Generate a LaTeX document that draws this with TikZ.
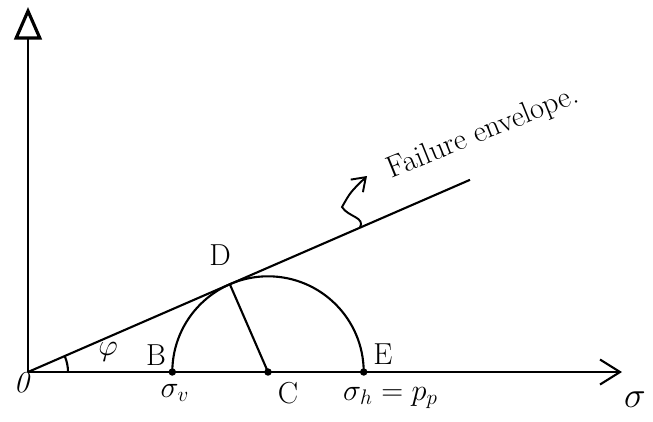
\documentclass[tikz,border=0pt]{standalone}
\usetikzlibrary{arrows.meta, calc}

\begin{document}
\begin{tikzpicture}[
  line width=1.2pt,
  axis/.style={line width=1.2pt},
  knot/.style={circle, fill, inner sep=1.5pt},
  lbl/.style={font=\LARGE, inner sep=1pt},
  pointer/.style={-{Straight Barb[length=2.5mm, width=3.5mm]}, line width=1.1pt},
]
\useasboundingbox (-0.56,-0.98) rectangle (12.50,7.44);

% axes
\coordinate (O) at (0,0);
\coordinate (tauend) at (0,7.3);
\coordinate (sigend) at (11.88,0);
\draw[axis, -{Triangle[open, length=6.5mm, width=5.5mm, line width=1.8pt]}] (O) -- (tauend);
\draw[axis, -{Straight Barb[length=4mm, width=5mm]}] (O) -- (sigend);

% failure envelope
\coordinate (envend) at (23.5:9.64);
\draw (O) -- (envend);

% circle points
\node[knot] (B) at (2.886,0) {};
\node[knot] (C) at (4.8,0) {};
\node[knot] (E) at (6.714,0) {};
\coordinate (D) at (23.5:4.402);
\draw (E.center) arc[start angle=0, end angle=180, radius=1.914];
\draw (D) -- (C.center);

% angle phi
\draw (0.8,0) arc[start angle=0, end angle=23.5, radius=0.8];
\node[lbl] (phi) at (1.6,0.4) {$\varphi$};

% labels
\node[lbl] (olbl) at (-0.12,-0.22) {\textit{0}};
\node[lbl] (blbl) at (2.56,0.34) {B};
\node[lbl] (svlbl) at (2.94,-0.42) {$\sigma_v$};
\node[lbl] (dlbl) at (3.84,2.34) {D};
\node[lbl] (clbl) at (5.2,-0.42) {C};
\node[lbl] (elbl) at (7.1,0.36) {E};
\node[lbl] (shlbl) at (7.25,-0.52) {$\sigma_h = p_p$};
\node[lbl, font=\huge] (siglbl) at (12.14,-0.56) {$\sigma$};

% envelope note
\node[lbl, rotate=22] (note) at (9.1,4.78) {Failure envelope.};
\coordinate (foot) at (23.5:7.24);
\coordinate (tip) at (6.78,3.92);
\draw[pointer] (foot) .. controls (6.75,3.1) and (6.4,3.1) .. (6.28,3.3)
  .. controls (6.45,3.6) .. (tip);

\end{tikzpicture}
\end{document}
